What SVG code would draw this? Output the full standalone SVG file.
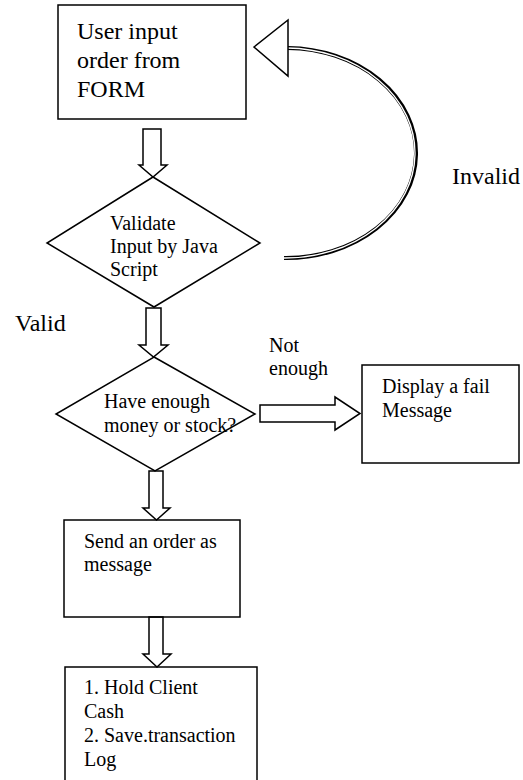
<svg xmlns="http://www.w3.org/2000/svg" width="523" height="780" viewBox="0 0 523 780" font-family="'Liberation Serif', 'DejaVu Serif', serif">
  <style>
    .shape { fill: #ffffff; stroke: #000000; stroke-width: 1.5; }
    .block { fill: none; stroke: #000000; stroke-width: 1.5; stroke-linejoin: miter; }
    text { font-family: 'Liberation Serif', 'DejaVu Serif', serif; fill: #000000; }
    .big { font-size: 24px; }
    .small { font-size: 20px; }
  </style>
  <rect x="0" y="0" width="523" height="780" fill="#ffffff"/>

  <!-- process boxes and decisions -->
  <g id="node-input">
    <rect class="shape" x="58" y="5" width="188" height="114"/>
    <text class="big" x="77" y="39">User input</text>
    <text class="big" x="77" y="68">order from</text>
    <text class="big" x="77" y="97">FORM</text>
  </g>

  <g id="node-validate">
    <polygon class="shape" points="153,177 260,243 154,307 47,243"/>
    <text class="small" x="110" y="230">Validate</text>
    <text class="small" x="110" y="253">Input by Java</text>
    <text class="small" x="110" y="276">Script</text>
  </g>

  <g id="node-enough">
    <polygon class="shape" points="154,357 255,414 155,471 56,414"/>
    <text class="small" x="104" y="408">Have enough</text>
    <text class="small" x="104" y="432">money or stock?</text>
  </g>

  <g id="node-fail">
    <rect class="shape" x="362" y="365" width="157" height="98"/>
    <text class="small" x="382" y="393">Display a fail</text>
    <text class="small" x="382" y="417">Message</text>
  </g>

  <g id="node-send">
    <rect class="shape" x="64" y="520" width="176" height="97"/>
    <text class="small" x="84" y="548">Send an order as</text>
    <text class="small" x="84" y="571">message</text>
  </g>

  <g id="node-hold">
    <rect class="shape" x="65" y="667" width="192" height="130"/>
    <text class="small" x="84" y="694">1. Hold Client</text>
    <text class="small" x="84" y="718">Cash</text>
    <text class="small" x="84" y="742">2. Save.transaction</text>
    <text class="small" x="84" y="766">Log</text>
  </g>

  <!-- connectors: hollow block arrows and the return loop -->
  <g id="connectors">
    <polygon class="block" points="143,129 161,129 161,165 167,165 153,177 139,165 143,165"/>
    <polygon class="block" points="146,308 161,308 161,345 168,345 153.5,357 139,345 146,345"/>
    <polygon class="block" points="149,471 163,471 163,508 170,508 156.5,520 143,508 149,508"/>
    <polygon class="block" points="149,617 163,617 163,654 171,654 157,667 143,654 149,654"/>
    <polygon class="block" points="260,405 335,405 335,397 360,413.5 335,430 335,422 260,422"/>

    <!-- invalid loop: double-ruled arc back to the form -->
    <path d="M 288 48 A 130 105 0 0 1 284 258" fill="none" stroke="#000000" stroke-width="4"/>
    <path d="M 287 48 A 130 105 0 0 1 283 258" fill="none" stroke="#ffffff" stroke-width="1.3"/>
    <polygon class="shape" points="254,47 288,20 288,76"/>

    <text class="big" x="452" y="184">Invalid</text>
    <text class="big" x="15" y="331">Valid</text>
    <text class="small" x="269" y="352">Not</text>
    <text class="small" x="269" y="375">enough</text>
  </g>
</svg>
